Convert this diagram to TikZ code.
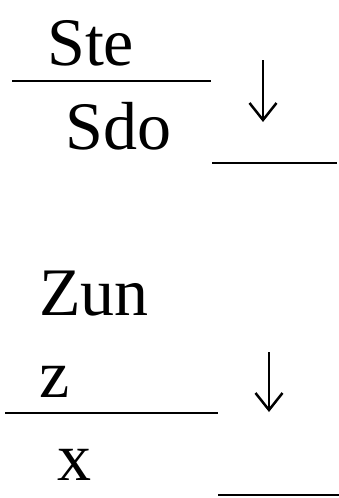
\documentclass[tikz,border=0pt]{standalone}
\usepackage{fontspec}
\setmainfont{Liberation Serif}
\usetikzlibrary{arrows.meta,positioning}
\tikzset{
  term/.style={anchor=base west,inner sep=0pt,font=\fontsize{68}{68}\selectfont},
  bar/.style={line width=2.5pt},
  reduce/.style={line width=2.5pt,-{Straight Barb[length=17pt,width=27pt,line width=2.5pt]}}
}
\begin{document}
\begin{tikzpicture}[x=1pt,y=-1pt]
  \useasboundingbox (0,0) rectangle (339,498);
  % first rule
  \node[term] (ste) at (47,65) {Ste};
  \node[term] (sdo) at (65,149) {Sdo};
  \coordinate (barA1) at (12,81);
  \coordinate (barA2) at (211,81);
  \draw[bar] (barA1) -- (barA2);
  \coordinate (arrA1) at (263,60);
  \coordinate (arrA2) at (263,122);
  \draw[reduce] (arrA1) -- (arrA2);
  \coordinate (blankA1) at (212,163);
  \coordinate (blankA2) at (337,163);
  \draw[bar] (blankA1) -- (blankA2);
  % second rule
  \node[term] (zun) at (39,315) {Zun};
  \node[term] (zz) at (39,397) {z};
  \node[term] (xx) at (57,480) {x};
  \coordinate (barB1) at (5,413);
  \coordinate (barB2) at (218,413);
  \draw[bar] (barB1) -- (barB2);
  \coordinate (arrB1) at (269,352);
  \coordinate (arrB2) at (269,412);
  \draw[reduce] (arrB1) -- (arrB2);
  \coordinate (blankB1) at (218,495);
  \coordinate (blankB2) at (339,495);
  \draw[bar] (blankB1) -- (blankB2);
\end{tikzpicture}
\end{document}
